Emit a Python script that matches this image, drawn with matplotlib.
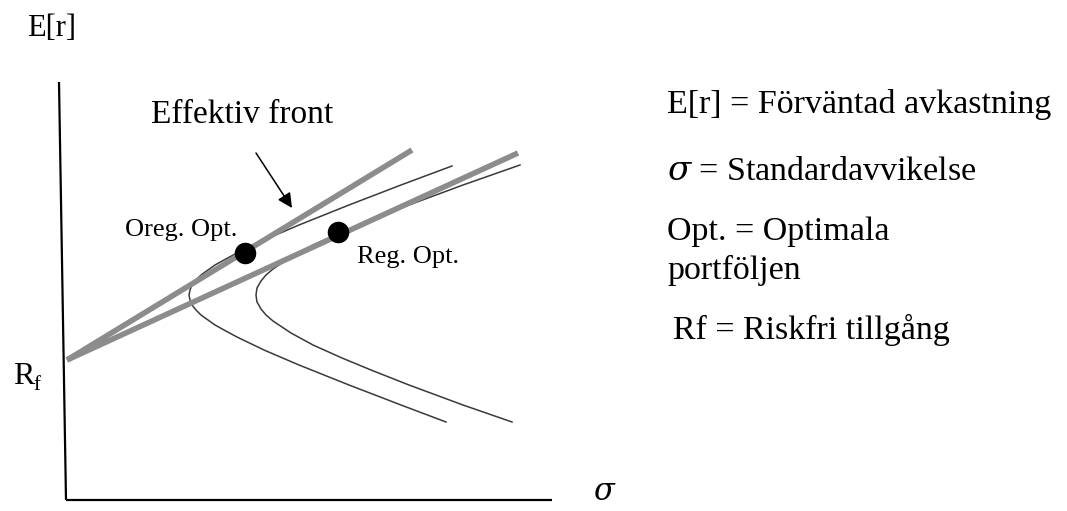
import matplotlib
matplotlib.use('Agg')
import matplotlib.pyplot as plt

plt.rcParams.update({
    'font.family': ['Liberation Serif', 'DejaVu Serif'],
    'mathtext.fontset': 'dejavuserif',
})

# diagram coordinates are measured in picture pixels (y grows downwards)

# capital market lines (start at Rf, end where the drawing stops)
line_unreg_x = [67, 412]
line_unreg_y = [360, 150]
line_reg_x = [67, 518]
line_reg_y = [360, 153]

# left (unregulated) minimum-variance frontier
front_left_y = [166, 185, 205, 225, 240, 253, 260, 265, 270, 275, 280, 285, 290,
                295, 300, 305, 310, 315, 320, 325, 330, 337, 350, 365, 385, 405, 422]
front_left_x = [452, 401, 349, 299, 264, 237, 224, 215, 208, 201, 196, 192, 190,
                189, 190, 192, 196, 201, 208, 215, 224, 237, 264, 299, 349, 401, 446]

# right (regulated) minimum-variance frontier
front_right_y = [165, 185, 205, 220, 232, 245, 257, 269, 275, 281, 288, 295,
                 302, 309, 315, 321, 333, 345, 358, 370, 385, 405, 422]
front_right_x = [520, 463, 409, 371, 342, 313, 291, 273, 266, 261, 257, 256,
                 257, 261, 266, 273, 291, 313, 342, 371, 409, 463, 512]

# optimal portfolios
opt_x = [245, 338]
opt_y = [253, 232]
opt_labels = ['Oreg. Opt.', 'Reg. Opt.']

legend_lines = [
    'E[r] = Förväntad avkastning',
    '$\\sigma$ = Standardavvikelse',
    'Opt. = Optimala',
    'portföljen',
    'Rf = Riskfri tillgång',
]

GRAY = '#8c8c8c'
DARK = '#3a3a3a'

fig = plt.figure(figsize=(10.67, 5.11), dpi=100)
ax = fig.add_axes([0, 0, 1, 1])
ax.set_xlim(0, 1067)
ax.set_ylim(511, 0)
ax.axis('off')

# axes of the diagram
ax.plot([59, 66], [82, 500], color='black', lw=1.6, solid_capstyle='butt')
ax.plot([66, 552], [500, 500], color='black', lw=1.6, solid_capstyle='butt')

# frontiers
ax.plot(front_left_x, front_left_y, color=DARK, lw=1.1, zorder=2)
ax.plot(front_right_x, front_right_y, color=DARK, lw=1.1, zorder=2)

# capital market lines
ax.plot(line_unreg_x, line_unreg_y, color=GRAY, lw=4.0, zorder=3,
        solid_capstyle='butt')
ax.plot(line_reg_x, line_reg_y, color=GRAY, lw=4.0, zorder=3,
        solid_capstyle='butt')

# optimal portfolios
ax.scatter(opt_x, opt_y, s=15.5 ** 2, color='black', zorder=4, linewidths=0)
ax.text(opt_x[0] - 8, opt_y[0] - 23, opt_labels[0], ha='right', va='center',
        fontsize=19)
ax.text(opt_x[1] + 19, opt_y[1] + 25, opt_labels[1], ha='left', va='center',
        fontsize=19)

# efficient frontier annotation
ax.text(242, 115, 'Effektiv front', ha='center', va='center', fontsize=24)
ax.annotate('', xy=(292, 208), xytext=(256, 153),
            arrowprops=dict(arrowstyle='-|>', color='black', lw=1.1,
                            mutation_scale=22, shrinkA=0, shrinkB=0))

# axis labels
ax.text(27, 29, 'E[r]', ha='left', va='center', fontsize=22)
ax.text(13, 377, 'R', ha='left', va='center', fontsize=23)
ax.text(33, 385, 'f', ha='left', va='center', fontsize=15)
ax.text(593, 493, '$\\sigma$', ha='left', va='center', fontsize=22)

# legend text on the right
legend_x = [667, 667, 667, 667, 673]
legend_y = [104, 172, 232, 270, 330]
for tx, ty, s in zip(legend_x, legend_y, legend_lines):
    ax.text(tx, ty, s, ha='left', va='center', fontsize=24.5)

fig.savefig('out.png', dpi=100)
